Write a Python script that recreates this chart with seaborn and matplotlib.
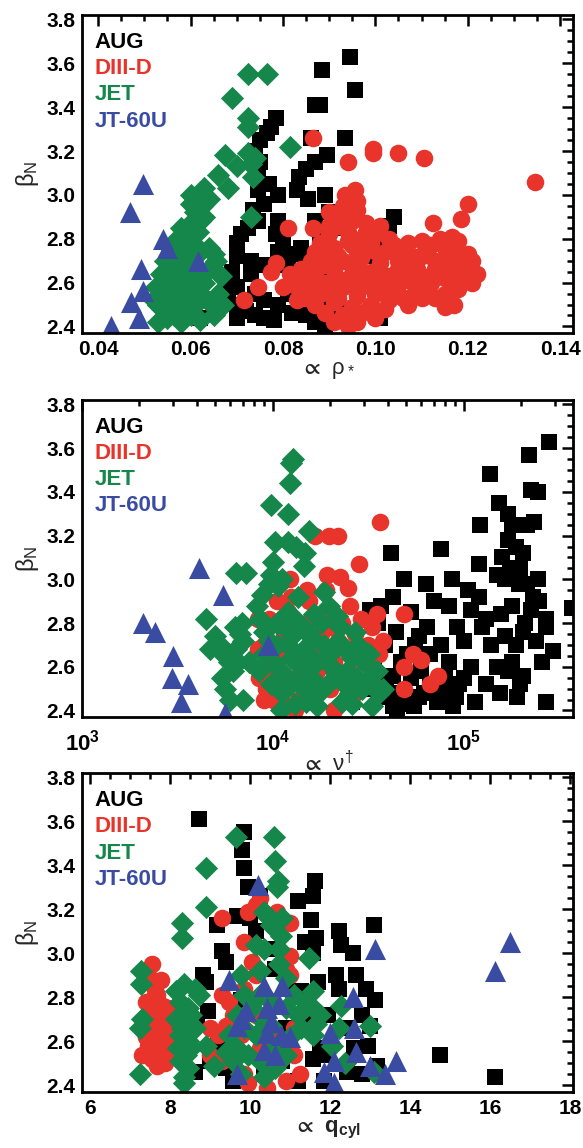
import matplotlib
matplotlib.use("Agg")
import numpy as np
import pandas as pd
import matplotlib.pyplot as plt
import seaborn as sns
from matplotlib import font_manager
from matplotlib.ticker import MultipleLocator, LogLocator, FuncFormatter, NullFormatter

# ---- data: (x, beta_N) pairs ----
# panel 1: rho_star
aug_rho = [(0.0945,3.63),(0.0885,3.57),(0.0955,3.48),(0.0870,3.41),(0.0880,3.41),(0.0785,3.35),(0.0775,3.31),
           (0.0765,3.28),(0.0935,3.26),(0.0860,3.26),(0.0750,3.25),(0.0740,3.20),(0.0895,3.18),(0.0870,3.15),
           (0.0850,3.12),(0.0835,3.08),(0.0750,3.15),(0.0745,3.10),(0.0770,3.05),(0.0745,3.02),(0.0790,3.00),
           (0.0830,3.02),(0.0855,2.98),(0.0890,3.00),(0.0950,2.96),(0.0760,2.96),(0.0735,2.93),(0.0745,2.88),
           (0.0725,2.85),(0.0710,2.82),(0.0700,2.78),(0.0700,2.72),(0.0730,2.70),(0.0790,2.88),(0.0785,2.82),
           (0.0800,2.78),(0.0820,2.73),(0.0840,2.76),(0.0870,2.88),(0.0880,2.80),(0.0900,2.92),(0.0920,2.85),
           (0.1040,2.90),(0.1030,2.86),(0.1000,2.82),(0.0690,2.65),(0.0730,2.64),(0.0760,2.68),(0.0790,2.74),
           (0.0810,2.68),(0.0850,2.70),(0.0870,2.65),(0.0680,2.60),(0.0700,2.58),(0.0740,2.55),(0.0760,2.52),
           (0.0790,2.50),(0.0810,2.55),(0.0840,2.58),(0.0880,2.62),(0.0860,2.55),(0.0890,2.50),(0.0680,2.55),
           (0.0700,2.50),(0.0720,2.47),(0.0740,2.45),(0.0760,2.44),(0.0780,2.43),(0.0820,2.46),(0.0850,2.45),
           (0.0870,2.42),(0.0890,2.40),(0.0700,2.44),(0.0620,2.44),(0.0950,2.45),(0.1010,2.44),(0.0920,2.48),
           (0.0980,2.72),(0.1010,2.78)]
diiid_rho = [(0.0865,3.26),(0.0940,3.15),(0.0995,3.21),(0.0995,3.19),(0.1050,3.19),(0.1105,3.17),(0.1345,3.06),
             (0.0810,2.85),(0.0865,2.85),(0.0785,2.69),(0.0775,2.65),(0.0745,2.58),(0.0715,2.52),(0.1200,2.96),
             (0.1185,2.89),(0.1125,2.87),(0.1165,2.81),(0.0955,3.02),(0.0935,3.00),
             (0.0900,2.92),(0.0930,2.95),(0.0960,2.93),(0.0950,2.88),(0.0920,2.86),(0.0980,2.87),(0.0900,2.82),
             (0.0940,2.83),(0.0970,2.80),(0.1000,2.82),(0.1030,2.80),(0.0880,2.78),(0.0910,2.76),(0.0950,2.77),
             (0.0990,2.75),(0.1020,2.74),(0.1060,2.75),(0.1100,2.72),(0.1120,2.77),(0.1150,2.76),(0.1180,2.74),
             (0.1200,2.73),(0.0860,2.70),(0.0890,2.72),(0.0930,2.70),(0.0970,2.71),(0.1010,2.69),(0.1050,2.70),
             (0.1080,2.68),(0.1130,2.70),(0.1160,2.69),(0.1210,2.70),(0.0840,2.66),(0.0870,2.64),(0.0910,2.66),
             (0.0950,2.64),(0.0990,2.65),(0.1030,2.63),(0.1070,2.65),(0.1100,2.63),(0.1140,2.65),(0.1170,2.64),
             (0.1200,2.66),(0.0820,2.62),(0.0850,2.60),(0.0890,2.60),(0.0930,2.61),(0.0970,2.59),(0.1010,2.60),
             (0.1050,2.59),(0.1090,2.61),(0.1120,2.60),(0.1160,2.61),(0.1190,2.62),(0.1210,2.60),(0.0800,2.58),
             (0.0840,2.56),(0.0880,2.55),(0.0920,2.56),(0.0960,2.54),(0.1000,2.55),(0.1040,2.56),(0.1080,2.54),
             (0.1110,2.57),(0.1150,2.55),(0.1180,2.57),(0.0830,2.52),(0.0870,2.50),(0.0910,2.51),(0.0950,2.49),
             (0.0990,2.50),(0.1030,2.52),(0.1070,2.50),(0.1150,2.49),(0.1170,2.50),(0.0890,2.46),(0.0930,2.45),
             (0.0970,2.46),(0.1000,2.44),(0.0910,2.42),(0.0940,2.40),(0.0960,2.42),(0.1060,2.62),(0.1090,2.58),
             (0.0980,2.78),(0.0920,2.72),(0.0960,2.68),
             (0.0870,2.74),(0.0890,2.68),(0.0910,2.62),(0.0930,2.58),(0.0950,2.60),(0.0970,2.63),(0.0990,2.58),
             (0.1010,2.63),(0.1030,2.58),(0.1050,2.66),(0.1070,2.61),(0.1090,2.66),(0.1110,2.61),(0.1130,2.66),
             (0.1150,2.62),(0.1170,2.67),(0.1190,2.69),(0.1220,2.64),(0.1100,2.53),(0.1130,2.53),(0.1060,2.53),
             (0.1020,2.48),(0.0980,2.47),(0.0950,2.44),(0.0920,2.53),(0.0900,2.57),(0.0860,2.58),(0.0850,2.53),
             (0.0830,2.58),(0.0815,2.64),(0.0940,2.90),(0.0960,2.97),(0.0920,2.89),(0.0900,2.86),(0.0940,2.79),
             (0.0960,2.74),(0.0990,2.78),(0.1010,2.72),(0.1040,2.77),(0.1080,2.72),(0.1110,2.75),(0.1160,2.72),
             (0.1180,2.79),(0.1140,2.80),(0.1100,2.79),(0.1070,2.78),(0.1010,2.86),(0.0980,2.83)]
jet_rho = [(0.0725,3.55),(0.0765,3.55),(0.0690,3.44),(0.0725,3.35),(0.0725,3.31),(0.0815,3.22),(0.0675,3.18),
           (0.0725,3.19),(0.0740,3.17),(0.0700,3.13),(0.0730,3.14),(0.0660,3.09),(0.0735,3.08),(0.0680,3.03),
           (0.0630,3.03),(0.0600,3.00),(0.0640,2.98),(0.0730,2.90),(0.0665,2.63),(0.0660,2.55),(0.0670,2.50),
           (0.0650,2.45),
           (0.0530,2.42),(0.0550,2.44),(0.0580,2.42),(0.0600,2.45),(0.0620,2.43),(0.0540,2.48),(0.0560,2.50),
           (0.0580,2.47),(0.0610,2.50),(0.0520,2.52),(0.0545,2.55),(0.0570,2.54),(0.0595,2.53),(0.0620,2.55),
           (0.0525,2.58),(0.0550,2.60),(0.0575,2.58),(0.0600,2.60),(0.0615,2.62),(0.0535,2.64),(0.0560,2.65),
           (0.0585,2.66),(0.0610,2.67),(0.0545,2.70),(0.0570,2.71),(0.0595,2.72),(0.0620,2.74),(0.0560,2.75),
           (0.0580,2.77),(0.0605,2.78),(0.0640,2.76),(0.0650,2.73),(0.0570,2.80),(0.0590,2.82),(0.0615,2.83),
           (0.0580,2.85),(0.0600,2.87),(0.0620,2.88),(0.0610,2.92),(0.0625,2.95),(0.0600,2.96),(0.0630,2.90),
           (0.0560,2.68),(0.0590,2.62),(0.0630,2.60),(0.0640,2.66),(0.0655,2.70),(0.0530,2.50),(0.0565,2.45),
           (0.0590,2.57),(0.0635,2.52),(0.0650,2.50),(0.0660,2.48)]
jt60u_rho = [(0.0496,3.05),(0.0468,2.92),(0.0540,2.80),(0.0548,2.76),(0.0616,2.70),(0.0492,2.66),
             (0.0496,2.56),(0.0472,2.51),(0.0488,2.44),(0.0428,2.40)]

# panel 2: nu_dagger
aug_nu = [(282000,3.63),(220000,3.57),(137000,3.48),(225000,3.41),(246000,3.40),(153000,3.35),(172000,3.30),
          (180000,3.25),(122000,3.25),(215000,3.25),(235000,3.26),(41500,3.12),(76300,3.14),(120000,3.07),
          (172000,3.18),(188000,3.15),(206000,3.12),(48600,3.00),(63700,2.98),(87300,3.00),(105000,2.95),
          (150000,3.02),(164000,3.00),(197000,3.05),(215000,2.98),(246000,3.00),(42500,2.92),(37100,2.88),
          (32400,2.86),(53200,2.85),(69700,2.90),(83500,2.88),(109000,2.86),(131000,2.82),(157000,2.84),
          (180000,2.88),(225000,2.86),(270000,2.82),(270000,2.78),(370000,2.87),(35400,2.80),(44400,2.76),
          (58200,2.74),(76300,2.70),(100000,2.72),(125000,2.78),(164000,2.74),(206000,2.76),(38800,2.70),
          (50800,2.66),(66700,2.66),(83500,2.62),(109000,2.60),(180000,2.62),(188000,2.70),(295000,2.67),
          (258000,2.62),(33900,2.60),(42500,2.56),(53200,2.55),(66700,2.52),(83500,2.50),(100000,2.55),
          (131000,2.52),(172000,2.58),(197000,2.52),(206000,2.56),(40600,2.48),(46500,2.45),(58200,2.46),
          (72900,2.44),(91400,2.46),(115000,2.44),(42500,2.42),(50800,2.43),(270000,2.44),(25900,2.44),
          (33900,2.50),(36000,2.46),(39000,2.52),(45000,2.40),(55000,2.42),(62000,2.48),(70000,2.50),
          (78000,2.46),(88000,2.42),(95000,2.52),(60000,2.58),(47000,2.62),(80000,2.56),(56000,2.70),
          (64000,2.78),(92000,2.78),(120000,2.92),(140000,2.70),(150000,2.60),(230000,2.92),(250000,2.90),
          (160000,3.10),(175000,3.05),(195000,2.98),(210000,2.80),(240000,2.72),(190000,2.46),(155000,2.48)]
diiid_nu = [(36400,3.26),(19700,3.20),(22000,3.20),(16700,3.20),(28300,3.07),(19300,3.02),(22400,3.01),
            (24800,2.96),(12300,3.00),(15100,2.95),(35100,2.84),(49000,2.84),(54500,2.66),(60000,2.63),
            (49000,2.60),(73500,2.56),(66700,2.52),(48600,2.50),(8400,2.82),(8400,2.68),
            (9000,2.70),(9500,2.60),(9200,2.50),(10000,2.45),(10500,2.55),(11000,2.65),(11500,2.75),
            (12000,2.85),(12500,2.92),(13000,2.55),(13500,2.45),(14000,2.65),(15000,2.80),(15500,2.90),
            (16000,2.70),(17000,2.58),(18000,2.75),(19000,2.85),(20000,2.50),(21000,2.62),(22000,2.72),
            (23000,2.80),(24000,2.45),(25000,2.58),(26000,2.68),(27000,2.75),(28500,2.52),(30000,2.62),
            (31500,2.70),(33000,2.78),(34500,2.58),(36000,2.66),(38000,2.72),(12000,2.42),(13000,2.40),
            (21000,2.40),(9500,2.82),(10500,2.90),(16500,2.50),(19000,2.95),(14000,2.58),(17500,2.66),
            (25500,2.88),(29000,2.82),(11000,2.48),(8500,2.55),(9000,2.45),(27000,2.48),(23500,2.56),
            (20000,2.78)]
jet_nu = [(12800,3.55),(12400,3.53),(12300,3.44),(9800,3.34),(12000,3.30),(15400,3.22),(10300,3.17),
          (12000,3.17),(13200,3.15),(14800,3.12),(14500,3.06),(10000,3.08),(6450,3.03),(7200,3.03),
          (4450,2.82),(11200,3.00),(10600,2.97),
          (4700,2.68),(5000,2.74),(5300,2.70),(5600,2.65),(5900,2.62),(6200,2.58),(5400,2.55),(5600,2.50),
          (6400,2.68),(6700,2.75),(6300,2.78),(7000,2.72),(6600,2.62),(6000,2.45),(7000,2.45),(7500,2.62),
          (6900,2.80),(8300,2.88),(8800,2.93),(9500,2.98),(9800,3.02),(8600,2.82),(9000,2.76),
          (9500,2.72),(10500,2.70),(11500,2.78),(12600,2.74),(13800,2.80),(15100,2.76),(16500,2.84),
          (18000,2.80),(19700,2.88),(21600,2.83),(12000,2.85),(10000,2.62),(11000,2.58),(12500,2.64),
          (14000,2.60),(15500,2.66),(17000,2.62),(18500,2.70),(20000,2.66),(22000,2.72),(24000,2.68),
          (26000,2.64),(28000,2.70),(30000,2.62),(32000,2.66),(9800,2.52),(11200,2.48),(12800,2.53),
          (14500,2.50),(16000,2.55),(17500,2.48),(19500,2.52),(21500,2.57),(23500,2.52),(25500,2.48),
          (27500,2.55),(29500,2.50),(31500,2.54),(34000,2.52),(36000,2.48),(13000,2.43),(15000,2.44),
          (17000,2.42),(23000,2.44),(26000,2.43),(33000,2.42),(38000,2.50),(35000,2.58),(12000,2.70),
          (16000,2.73),(20500,2.60),(24500,2.58),(14500,2.68),(10500,2.80),(13500,2.92),(9000,2.66),
          (8500,2.58),(27000,2.76),(22500,2.78),(18500,2.94),(11000,2.40)]
jt60u_nu = [(4100,3.05),(5500,2.93),(2100,2.80),(2400,2.76),(3000,2.65),(2950,2.55),(3600,2.52),
            (3300,2.44),(5600,2.39),(9400,2.70)]

# panel 3: q_cyl
aug_q = [(8.72,3.61),(9.86,3.55),(9.81,3.47),(9.84,3.39),(9.96,3.30),(11.62,3.33),(11.19,3.24),(11.57,3.26),
         (10.24,3.26),(11.52,3.15),(13.09,3.13),(12.23,3.10),(9.18,3.13),(9.67,3.17),(10.00,3.16),(10.15,3.10),
         (9.29,3.01),(9.39,2.96),(11.66,3.07),(11.38,3.05),(11.57,3.00),(12.28,3.04),(12.57,3.00),(12.14,2.90),
         (12.23,2.84),(12.66,2.90),(12.90,2.84),(13.13,2.79),(11.71,2.87),(11.28,2.83),(8.82,2.90),(8.91,2.87),
         (8.95,2.74),(8.67,2.69),(9.20,2.61),(9.29,2.54),(8.63,2.46),(9.39,2.48),(8.15,2.54),(9.77,2.79),
         (10.34,2.69),(10.91,2.66),(11.47,2.70),(11.95,2.72),(12.42,2.66),(12.80,2.72),(12.99,2.67),(11.76,2.57),
         (11.57,2.52),(11.95,2.54),(12.61,2.57),(12.95,2.58),(12.42,2.46),(12.80,2.45),(13.18,2.49),(11.19,2.42),
         (11.85,2.42),(14.75,2.54),(16.12,2.44),(9.58,2.42),(9.00,2.51),(10.81,2.51),(10.34,2.45),(11.10,2.83),
         (10.62,2.93),(10.53,3.02)]
diiid_q = [(7.54,2.95),(7.44,2.90),(7.77,2.88),(7.39,2.78),(7.67,2.81),(7.82,2.76),(7.49,2.72),(7.73,2.70),
           (7.92,2.67),(7.35,2.66),(7.59,2.63),(7.87,2.61),(8.06,2.58),(7.44,2.58),(7.68,2.55),(7.30,2.54),
           (7.96,2.54),(7.68,2.49),(7.87,2.50),(7.49,2.60),(7.77,2.66),(7.96,2.75),(7.63,2.84),
           (7.55,2.52),(7.75,2.53),(7.60,2.57),(7.80,2.58),(7.50,2.66),(7.70,2.62),(7.90,2.64),(7.55,2.75),
           (7.75,2.73),(7.60,2.80),(7.85,2.70),(7.45,2.70),(7.95,2.60),(7.40,2.62),
           (9.29,3.16),(9.86,3.05),(9.96,3.19),(10.15,3.22),(10.24,3.25),(10.67,3.19),(11.00,3.14),(11.00,2.99),
           (10.91,2.93),(11.00,2.90),(10.05,2.96),(10.15,2.90),(9.29,2.81),(9.48,2.78),(9.58,2.72),(9.39,2.67),
           (9.20,2.63),(9.00,2.54),(9.29,2.51),(9.67,2.54),(9.86,2.45),(9.96,2.41),(10.43,2.39),(10.72,2.51),
           (10.91,2.42),(11.24,2.45),(11.10,2.54),(10.91,2.60),(11.10,2.66),(10.53,2.63),(10.15,2.72),(10.34,2.81),
           (9.86,2.84),(9.77,2.63),(10.24,2.57),(9.00,2.66)]
jet_q = [(8.15,2.83),(8.34,2.86),(8.63,2.84),(8.25,2.78),(8.44,2.75),(8.15,2.70),(8.39,2.67),(8.63,2.66),
         (8.25,2.63),(8.44,2.60),(8.20,2.57),(8.39,2.54),(8.25,2.51),(8.44,2.48),(8.34,2.44),(8.34,2.41),
         (8.53,2.72),(8.72,2.81),(8.53,2.57),(8.30,2.66),
         (7.28,2.92),(7.28,2.86),(7.30,2.70),(7.25,2.66),(7.25,2.45),
         (8.30,3.14),(8.30,3.07),(8.91,3.39),(8.91,3.21),(9.65,3.53),(10.60,3.53),(10.62,3.42),(10.70,3.33),
         (10.67,3.30),(10.34,3.19),(10.48,3.16),(10.81,3.16),(10.53,3.13),(10.77,3.08),(10.15,3.04),(10.34,3.02),
         (10.72,3.02),(10.72,2.95),(11.47,2.98),(10.24,2.92),(10.91,2.89),(11.57,2.83),(12.28,2.76),(12.99,2.67),
         (8.91,2.58),(9.10,2.49),(9.77,2.90),(12.23,2.66),(12.04,2.58),(12.38,2.50),(13.09,2.46),
         (9.48,2.63),(9.67,2.57),(9.86,2.66),(10.05,2.75),(10.34,2.69),(10.53,2.78),(10.91,2.75),(11.19,2.72),
         (11.38,2.78),(11.57,2.75),(11.28,2.66),(11.57,2.63),(11.00,2.62),(10.62,2.57),(10.24,2.51),(9.96,2.54),
         (9.58,2.51),(9.77,2.45),(10.34,2.44),(10.62,2.48),(10.15,2.63),(10.53,2.67),(10.24,2.81),(9.86,2.81),
         (9.67,2.72),(9.39,2.55),(10.91,2.54),(11.76,2.72),(11.66,2.68),(11.10,2.81)]
jt60u_q = [(10.19,3.31),(13.13,3.02),(16.50,3.05),(16.12,2.92),(9.48,2.88),(10.34,2.85),(10.81,2.85),
           (10.72,2.77),(10.43,2.75),(9.91,2.74),(9.77,2.70),(9.67,2.67),(10.53,2.69),(10.43,2.64),
           (10.77,2.63),(11.00,2.62),(10.34,2.56),(10.62,2.54),(12.57,2.80),(12.61,2.66),(12.00,2.64),
           (12.66,2.55),(12.09,2.51),(11.85,2.46),(12.99,2.49),(13.66,2.51),(13.37,2.45),(12.09,2.41),
           (9.67,2.45)]

machines = ["AUG", "DIII-D", "JET", "JT-60U"]
colors = ["#000000", "#e8342a", "#16874a", "#3a4ca2"]
markers = ["s", "o", "D", "^"]
sizes = [130, 160, 140, 230]

sns.set_style("white")
names = {f.name for f in font_manager.fontManager.ttflist}
FONT = "Liberation Sans Narrow" if "Liberation Sans Narrow" in names else "Liberation Sans"
plt.rcParams['font.family'] = [FONT, 'DejaVu Sans']
plt.rcParams['font.weight'] = 'bold'
plt.rcParams['mathtext.fontset'] = 'custom'
plt.rcParams['mathtext.rm'] = FONT
plt.rcParams['mathtext.it'] = FONT + ':italic'
plt.rcParams['mathtext.bf'] = FONT + ':bold'
plt.rcParams['mathtext.default'] = 'regular'

fig = plt.figure(figsize=(5.83, 11.48), dpi=100)
ax1 = fig.add_axes([0.1407, 0.7099, 0.8422, 0.2770])
ax2 = fig.add_axes([0.1407, 0.3754, 0.8422, 0.2761])
ax3 = fig.add_axes([0.1407, 0.0488, 0.8422, 0.2779])

panels = [
    (ax1, [aug_rho, diiid_rho, jet_rho, jt60u_rho], r'$\propto\ \rho_*$', 1),
    (ax2, [aug_nu, diiid_nu, jet_nu, jt60u_nu], r'$\propto\ \nu^{\dagger}$', -3),
    (ax3, [aug_q, diiid_q, jet_q, jt60u_q], r'$\propto\ \mathbf{q_{cyl}}$', 1),
]

for ax, series, xlab, lpad in panels:
    for pts, name, c, m, s in zip(series, machines, colors, markers, sizes):
        df = pd.DataFrame(pts, columns=["x", "beta"])
        sns.scatterplot(data=df, x="x", y="beta", ax=ax, color=c, marker=m, s=s,
                        linewidth=0, legend=False, zorder=3)
    for i, (name, c) in enumerate(zip(machines, colors)):
        ax.text(0.025, 0.915 - i * 0.083, name, transform=ax.transAxes, color=c,
                fontsize=16, fontweight='bold', va='center', ha='left', zorder=5)
    ax.set_ylim(2.37, 3.82)
    ax.yaxis.set_major_locator(MultipleLocator(0.2))
    ax.yaxis.set_minor_locator(MultipleLocator(0.05))
    ax.yaxis.set_major_formatter(FuncFormatter(lambda v, p: f"{v:.1f}"))
    ax.set_ylabel(r'$\beta_N$', fontsize=17, fontweight='normal', labelpad=4)
    ax.set_xlabel(xlab, fontsize=16, fontweight='normal', labelpad=lpad)
    for sp in ax.spines.values():
        sp.set_linewidth(2)
        sp.set_color('black')
        sp.set_zorder(6)
    ax.tick_params(which='both', direction='in', top=True, right=True, width=1.8, colors='black')
    ax.tick_params(which='major', length=8, labelsize=15, pad=5)
    ax.tick_params(which='minor', length=4)

ax1.set_xlim(0.0365, 0.1428)
ax1.xaxis.set_major_locator(MultipleLocator(0.02))
ax1.xaxis.set_minor_locator(MultipleLocator(0.005))
ax1.xaxis.set_major_formatter(FuncFormatter(lambda v, p: f"{v:.2f}"))

ax2.set_xscale('log')
ax2.set_xlim(1e3, 3.75e5)
ax2.xaxis.set_major_locator(LogLocator(base=10))
ax2.xaxis.set_minor_locator(LogLocator(base=10, subs=np.arange(2, 10)))
ax2.xaxis.set_minor_formatter(NullFormatter())
ax2.xaxis.set_major_formatter(FuncFormatter(lambda v, p: r'$\mathbf{10^{%d}}$' % round(np.log10(v))))
ax2.tick_params(axis='x', which='major', pad=9, labelsize=16)

ax3.set_xlim(5.8, 18.08)
ax3.xaxis.set_major_locator(MultipleLocator(2))
ax3.xaxis.set_minor_locator(MultipleLocator(0.5))

fig.savefig("out.png", dpi=100)
